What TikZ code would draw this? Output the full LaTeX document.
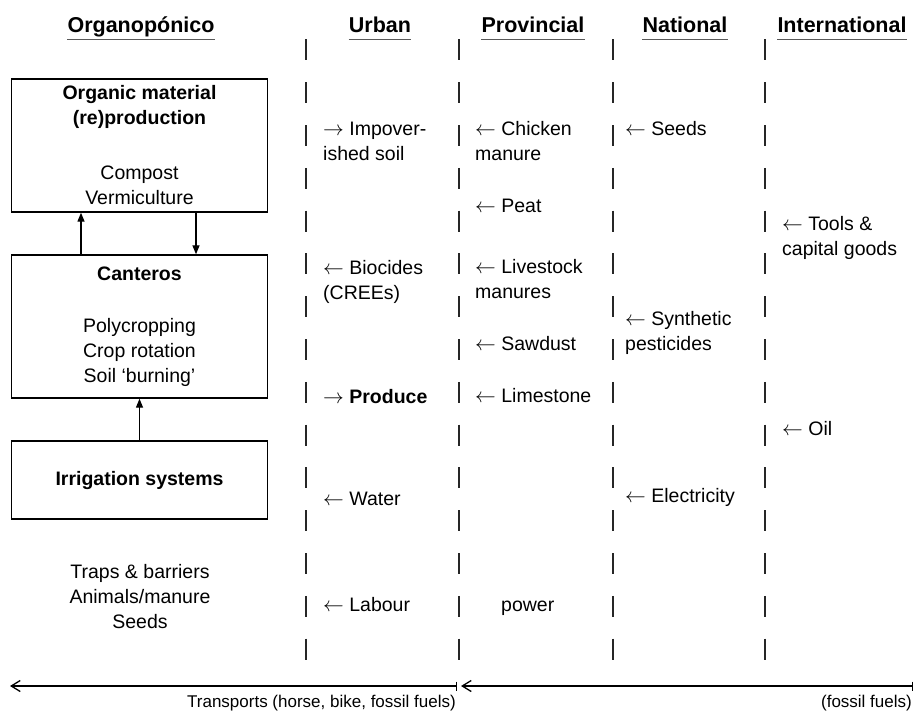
\documentclass[tikz,border=0pt]{standalone}
\usepackage{fontspec}
\setmainfont{Liberation Sans}
\usetikzlibrary{arrows.meta}
\tikzset{
  head/.style={font=\fontsize{21.5}{26}\selectfont\bfseries, inner sep=0pt, anchor=base},
  item/.style={font=\fontsize{19.5}{25.5}\selectfont, inner sep=0pt, align=left, anchor=base west},
  unit/.style={draw, line width=1.4pt, minimum width=256pt, inner sep=0pt, align=center,
    font=\fontsize{19.5}{25}\selectfont},
  border/.style={line width=1.7pt, black!85, dash pattern=on 21pt off 21.8pt},
  flow/.style={line width=1.3pt, -{Triangle[length=9pt,width=7pt]}},
  haul/.style={line width=1.3pt, {Straight Barb[length=9pt,width=11pt]}-{Bar[width=9pt]}},
  note/.style={font=\fontsize{17}{20}\selectfont, inner sep=0pt, anchor=base east},
}
\begin{document}
\begin{tikzpicture}[x=1pt,y=-1pt]
  \useasboundingbox (0,0) rectangle (915,710);

  \foreach \x in {306,459,613,765}
    \draw[border] (\x,39.4) -- (\x,661);

  \node[head] (org) at (141,32) {Organopónico};
  \node[head] (urb) at (380,32) {Urban};
  \node[head] (prov) at (533,32) {Provincial};
  \node[head] (nat) at (685,32) {National};
  \node[head] (intl) at (842,32) {International};
  \foreach \h in {org,urb,prov,nat,intl}
    \draw[black!65, line width=1.8pt] ([yshift=-7.5pt]\h.base west) -- ([yshift=-7.5pt]\h.base east);

  \node[unit, minimum height=133pt] (orgmat) at (139.5,145.5)
    {\textbf{Organic material}\\\textbf{(re)production}\\[30pt]Compost\\Vermiculture};
  \node[unit, minimum height=143pt] (cant) at (139.5,326.5)
    {\textbf{Canteros}\\[27pt]Polycropping\\Crop rotation\\Soil ‘burning’};
  \node[unit, minimum height=78pt] (irr) at (139.5,480) {\textbf{Irrigation systems}};
  \node[unit, draw=none] (inputs) at (140,596.5) {Traps \& barriers\\Animals/manure\\Seeds};

  \draw[flow] ([xshift=-58.5pt]cant.north) -- ([xshift=-58.5pt]orgmat.south);
  \draw[flow] ([xshift=56.5pt]orgmat.south) -- ([xshift=56.5pt]cant.north);
  \draw[flow] (irr) -- (cant);

  % urban
  \node[item] (soil) at (323,160.5) {$\rightarrow$ Impover-\\ished soil};
  \node[item] (bioc) at (323,299.5) {$\leftarrow$ Biocides\\(CREEs)};
  \node[item] (prod) at (323,403) {$\rightarrow$ \textbf{Produce}};
  \node[item] (water) at (323,505) {$\leftarrow$ Water};
  \node[item] (labour) at (323,611) {$\leftarrow$ Labour};
  % provincial
  \node[item] (chick) at (475,160.5) {$\leftarrow$ Chicken\\manure};
  \node[item] (peat) at (475,212) {$\leftarrow$ Peat};
  \node[item] (stock) at (475,298.5) {$\leftarrow$ Livestock\\manures};
  \node[item] (saw) at (475,350) {$\leftarrow$ Sawdust};
  \node[item] (lime) at (475,402) {$\leftarrow$ Limestone};
  \node[item] (power) at (501,611) {power};
  % national
  \node[item] (seeds) at (625,135) {$\leftarrow$ Seeds};
  \node[item] (pest) at (625,350.5) {$\leftarrow$ Synthetic\\pesticides};
  \node[item] (elec) at (625,502) {$\leftarrow$ Electricity};
  % international
  \node[item] (tools) at (782,255.5) {$\leftarrow$ Tools \&\\capital goods};
  \node[item] (oil) at (782,435) {$\leftarrow$ Oil};

  \coordinate (w) at (10,686);
  \coordinate (m) at (457,686);
  \coordinate (m2) at (461,686);
  \coordinate (e) at (913,686);
  \draw[haul] (w) -- (m);
  \draw[haul] (m2) -- (e);
  \node[note] (trans) at (456,707) {Transports (horse, bike, fossil fuels)};
  \node[note] (fuel) at (912,707) {(fossil fuels)};
\end{tikzpicture}
\end{document}
